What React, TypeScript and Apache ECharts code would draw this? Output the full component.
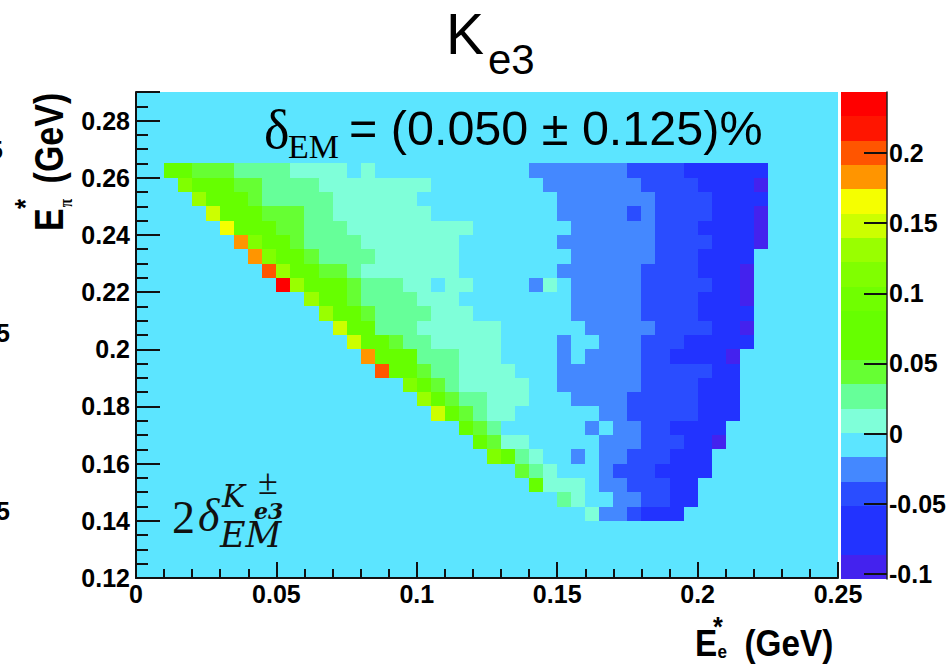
import React, { useEffect, useRef } from "react";
import * as echarts from "echarts";

const BIN_X = 0.005;
const BIN_Y = 0.005;

// Representative value per cell class
const A = -0.09, B = -0.06, C = -0.04, D = -0.025;
const F = 0.01, G = 0.025, H = 0.045, I = 0.08, J = 0.11, K = 0.13, L = 0.15, M = 0.165, N = 0.18, O = 0.2, P = 0.235;

// Runs per y-bin: [first x-bin, number of bins, value]
const row28 = [[2,2,I],[4,3,H],[7,4,G],[11,4,F],[16,1,F],[28,7,D],[35,4,C],[39,6,B]];
const row27 = [[3,1,J],[4,3,I],[7,2,H],[9,4,G],[13,8,F],[29,7,D],[36,4,C],[40,4,B],[44,1,A]];
const row26 = [[4,1,K],[5,3,I],[8,1,H],[9,5,G],[14,6,F],[30,7,D],[37,4,C],[41,4,B]];
const row25 = [[5,1,L],[6,3,I],[9,3,H],[12,2,G],[14,7,F],[30,5,D],[35,1,C],[36,1,D],[37,4,C],[41,3,B],[44,1,A]];
const row24 = [[6,1,M],[7,3,I],[10,2,H],[12,3,G],[15,9,F],[31,6,D],[37,3,C],[40,4,B],[44,1,A]];
const row23 = [[7,1,N],[8,1,J],[9,2,I],[11,1,H],[12,4,G],[16,7,F],[30,7,D],[37,4,C],[41,3,B],[44,1,A]];
const row22 = [[8,1,N],[9,1,J],[10,2,I],[12,1,H],[13,4,G],[17,6,F],[31,6,D],[37,3,C],[40,4,B]];
const row21 = [[9,1,O],[10,1,K],[11,2,I],[13,2,H],[15,1,G],[16,7,F],[30,6,D],[36,4,C],[40,3,B],[43,1,A]];
const row20 = [[10,1,P],[11,1,K],[12,3,I],[15,1,H],[16,3,G],[19,2,F],[22,2,F],[28,1,D],[29,1,F],[31,5,D],[36,5,C],[41,2,B],[43,1,A]];
const row19 = [[12,1,K],[13,2,I],[15,1,H],[16,4,G],[20,3,F],[31,5,D],[36,4,C],[40,3,B],[43,1,A]];
const row18 = [[13,1,K],[14,2,I],[16,1,H],[17,4,G],[21,3,F],[31,5,D],[36,4,C],[40,4,B]];
const row17 = [[14,1,L],[15,2,I],[17,3,G],[20,6,F],[32,5,D],[37,4,C],[41,2,B],[43,1,A]];
const row16 = [[15,1,L],[16,2,I],[18,1,H],[19,2,G],[21,5,F],[30,1,D],[33,3,D],[36,3,C],[39,5,B]];
const row15 = [[16,1,N],[17,3,I],[20,3,G],[23,3,F],[30,1,D],[32,4,D],[36,2,C],[38,4,B],[42,1,A]];
const row14 = [[17,1,O],[18,2,I],[20,1,H],[21,2,G],[23,4,F],[30,6,D],[36,5,C],[41,2,B]];
const row13 = [[19,1,J],[20,1,I],[21,1,H],[22,1,G],[23,5,F],[30,6,D],[36,4,C],[40,3,B]];
const row12 = [[20,1,K],[21,1,I],[22,1,H],[23,2,G],[25,3,F],[31,4,D],[35,5,C],[40,3,B]];
const row11 = [[21,1,L],[22,1,I],[23,1,H],[24,1,G],[25,2,F],[33,2,D],[35,5,C],[40,3,B]];
const row10 = [[23,1,I],[24,1,H],[25,1,G],[32,1,D],[34,2,D],[36,2,C],[38,4,B]];
const row9 = [[24,1,I],[25,1,H],[26,2,F],[33,3,D],[36,3,C],[39,2,B],[41,1,A]];
const row8 = [[25,1,J],[26,1,I],[27,1,G],[28,1,F],[31,1,D],[33,2,D],[35,3,C],[38,3,B]];
const row7 = [[27,1,H],[28,1,G],[29,1,F],[33,1,D],[34,3,C],[37,4,B]];
const row6 = [[28,1,I],[29,3,F],[33,2,D],[35,3,C],[38,2,B]];
const row5 = [[30,1,G],[31,1,F],[34,2,D],[36,2,C],[38,2,B]];
const row4 = [[32,1,F],[33,2,D],[35,1,C],[36,3,B]];

const rows: [number, number[][]][] = [
  [28,row28],[27,row27],[26,row26],[25,row25],[24,row24],[23,row23],[22,row22],[21,row21],[20,row20],
  [19,row19],[18,row18],[17,row17],[16,row16],[15,row15],[14,row14],[13,row13],[12,row12],[11,row11],
  [10,row10],[9,row9],[8,row8],[7,row7],[6,row6],[5,row5],[4,row4],
];

// 20-level palette, lowest to highest
const palette = [
  "#4422ee","#2233ff","#2233ff","#2a4dff","#4488ff","#5ce5ff","#7fffd9","#66ff99","#66ff33","#66ff00",
  "#66ff00","#70ff00","#80ff00","#99ff00","#ccff00","#f5ff00","#ff9500","#ff5500","#ff1500","#ff0000",
];
const zMin = -0.1036;
const zMax = 0.2434;
const zTicks = [-0.1, -0.05, 0, 0.05, 0.1, 0.15, 0.2];
const zStep = (zMax - zMin) / palette.length;

function colorOf(v: number) {
  const i = Math.max(0, Math.min(palette.length - 1, Math.floor((v - zMin) / zStep)));
  return palette[i];
}

const cells: number[][] = [];
rows.forEach(([yBin, runs]) => {
  runs.forEach(([start, count, value]) => {
    for (let k = 0; k < count; k++) {
      cells.push([(start + k) * BIN_X, 0.12 + yBin * BIN_Y, value]);
    }
  });
});
const barCells = palette.map((_, i) => [zMin + i * zStep, zMin + (i + 1) * zStep, zMin + (i + 0.5) * zStep]);

const sans = '"Liberation Sans", Arial, sans-serif';
const serif = '"Liberation Serif", "Times New Roman", serif';
const dejaSerif = '"DejaVu Serif", serif';

function txt(x: number, y: number, text: string, font: string, extra: any = {}) {
  return {
    type: "text",
    x,
    y,
    z: 20,
    silent: true,
    style: { text, font, fill: "#000", textAlign: "left", textVerticalAlign: "middle", ...extra },
  };
}

function snappedRect(a: number[], b: number[]) {
  const x0 = Math.round(a[0]), y0 = Math.round(a[1]);
  const x1 = Math.round(b[0]), y1 = Math.round(b[1]);
  return { x: x0, y: y0, width: x1 - x0, height: y1 - y0 };
}

export default function App() {
  const ref = useRef<HTMLDivElement>(null);
  useEffect(() => {
    const chart = echarts.init(ref.current!, null, { renderer: "svg" });
    const labelStyle = { color: "#000", fontFamily: sans, fontWeight: "bold" as const, fontSize: 25 };
    const tickLine = { color: "#111", width: 2 };
    chart.setOption({
      animation: false,
      backgroundColor: "#fff",
      grid: [
        { left: 136, top: 92, width: 702, height: 486, show: true, backgroundColor: "#5ce5ff", borderWidth: 0 },
        { left: 841, top: 92, width: 46, height: 487, show: false },
      ],
      xAxis: [
        {
          type: "value", gridIndex: 0, min: 0, max: 0.25, interval: 0.05, z: 10,
          axisLine: { show: true, lineStyle: tickLine },
          axisTick: { show: true, inside: true, length: 16, lineStyle: tickLine },
          minorTick: { show: true, splitNumber: 5, length: 9, lineStyle: tickLine },
          splitLine: { show: false },
          axisLabel: { ...labelStyle, margin: 3, showMinLabel: true, showMaxLabel: true, formatter: (v: number) => String(+v.toFixed(2)) },
        },
        { type: "value", gridIndex: 1, min: 0, max: 1, show: false },
      ],
      yAxis: [
        {
          type: "value", gridIndex: 0, min: 0.12, max: 0.29, interval: 0.02, z: 10,
          axisLine: { show: true, lineStyle: tickLine },
          axisTick: { show: true, inside: true, length: 24, lineStyle: tickLine },
          minorTick: { show: true, splitNumber: 4, length: 12, lineStyle: tickLine },
          splitLine: { show: false },
          axisLabel: { ...labelStyle, margin: 6, showMaxLabel: false, formatter: (v: number) => String(+v.toFixed(2)) },
        },
        {
          type: "value", gridIndex: 1, position: "right", min: zMin, max: zMax, z: 10,
          axisLine: { show: true, onZero: false, lineStyle: { color: "#222", width: 1.5 } },
          axisTick: { show: true, inside: true, length: 23, customValues: zTicks, lineStyle: tickLine },
          splitLine: { show: false },
          axisLabel: { ...labelStyle, margin: 2, customValues: zTicks, formatter: (v: number) => String(+v.toFixed(2)) },
        },
      ],
      series: [
        {
          type: "custom", xAxisIndex: 0, yAxisIndex: 0, data: cells, clip: true, silent: true, z: 2,
          encode: { x: 0, y: 1 },
          renderItem: (_: any, api: any) => {
            const x = api.value(0), y = api.value(1), v = api.value(2);
            return {
              type: "rect",
              shape: snappedRect(api.coord([x, y + BIN_Y]), api.coord([x + BIN_X, y])),
              style: { fill: colorOf(v) },
            };
          },
        },
        {
          type: "custom", xAxisIndex: 1, yAxisIndex: 1, data: barCells, silent: true, z: 2,
          encode: { y: [0, 1] },
          renderItem: (_: any, api: any) => {
            return {
              type: "rect",
              shape: snappedRect(api.coord([0, api.value(1)]), api.coord([1, api.value(0)])),
              style: { fill: colorOf(api.value(2)) },
            };
          },
        },
      ],
      graphic: {
        elements: [
          txt(446, 34, "K", `57px ${sans}`),
          txt(488, 59, "e3", `42px ${sans}`),
          txt(264, 130, "δ", `54px ${serif}`),
          txt(288, 146, "EM", `34px ${serif}`),
          txt(349, 128, "= (0.050 ± 0.125)%", `48.5px ${sans}`),
          txt(172, 517, "2", `46px ${serif}`, { fill: "#111" }),
          txt(198, 515, "δ", `italic 46px ${serif}`, { fill: "#111" }),
          txt(222, 496, "K", `italic 31px ${dejaSerif}`, { fill: "#111" }),
          txt(258, 482, "±", `36px ${serif}`, { fill: "#111" }),
          txt(254, 511, "e3", `italic bold 22px ${dejaSerif}`, { fill: "#111" }),
          txt(220, 535, "EM", `italic 35px ${dejaSerif}`, { fill: "#111" }),
          {
            type: "group", x: 695, y: 643, scaleX: 0.9,
            children: [
              txt(0, 0, "E", `bold 37px ${sans}`),
              txt(20, -16, "*", `bold 28px ${sans}`),
              txt(25, 9, "e", `bold 19px ${sans}`),
              txt(55, 0, "(GeV)", `bold 37px ${sans}`),
            ],
          },
          {
            type: "group", x: 49, y: 231, rotation: Math.PI / 2, scaleX: 0.85,
            children: [
              txt(0, 0, "E", `bold 40px ${sans}`),
              txt(26, -24, "*", `bold 30px ${sans}`),
              txt(28, 17, "π", `bold 18px ${serif}`),
              txt(56, 0, "(GeV)", `bold 40px ${sans}`),
            ],
          },
          txt(-4, 333, "5", `bold 25px ${sans}`),
          txt(-4, 511, "5", `bold 25px ${sans}`),
          txt(-11, 150, "5", `bold 25px ${sans}`),
        ],
      },
    });
    return () => chart.dispose();
  }, []);
  return <div ref={ref} style={{ position: "absolute", left: 0, top: 0, width: 951, height: 665 }} />;
}
